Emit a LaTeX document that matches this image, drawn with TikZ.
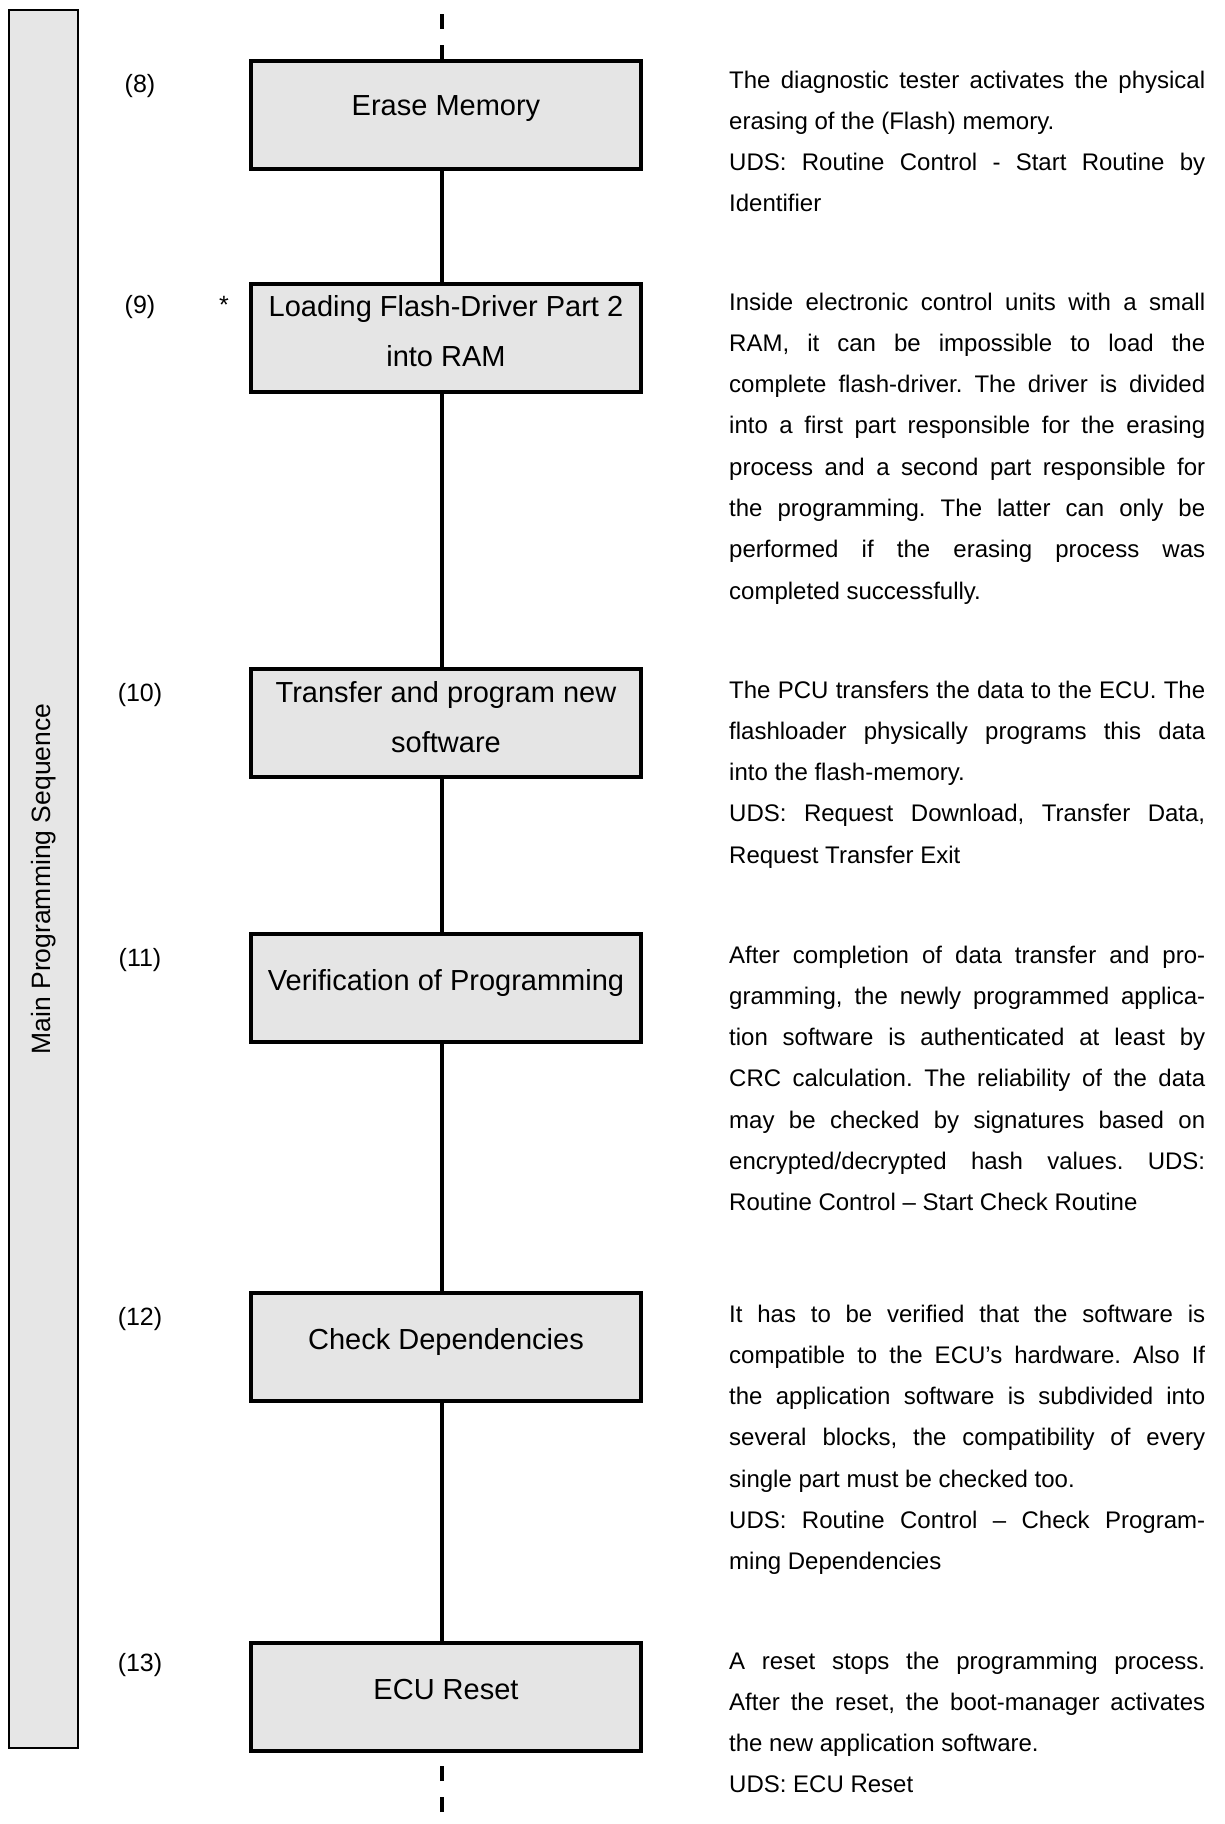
\documentclass[tikz,border=0pt]{standalone}
\usepackage{fontspec}
\setmainfont{Liberation Sans}
\usetikzlibrary{calc}
\frenchspacing
\newlength\colw
\setlength\colw{476pt}
% natural interword spacing of the font (TikZ alignment fixes it otherwise)
\newcommand\natsp{\spaceskip=0pt\xspaceskip=0pt\relax}
% one fully justified line, and one ragged line, of a description
\newcommand\jl[1]{\makebox[\colw][s]{\natsp #1}}
\newcommand\rl[1]{\makebox[\colw][l]{\natsp #1}}
\definecolor{boxgray}{HTML}{E5E5E5}
\definecolor{bargray}{HTML}{E6E6E6}
\begin{document}
\begin{tikzpicture}[x=1pt,y=-1pt,
  stepbox/.style={draw=black, line width=4pt, fill=boxgray, minimum width=390pt,
    minimum height=108pt, inner sep=0pt},
  boxtext/.style={inner sep=0pt, align=center, font=\fontsize{29}{50}\selectfont,
    execute at begin node=\natsp},
  sidebar/.style={draw=black, line width=2pt, fill=bargray, rotate=90,
    minimum width=1738pt, minimum height=69pt, inner sep=0pt,
    font=\fontsize{26.5}{30}\selectfont},
  num/.style={anchor=base, inner sep=0pt, font=\fontsize{25}{30}\selectfont},
  desc/.style={anchor=base west, text width=\colw, align=left, inner sep=0pt,
    font=\fontsize{24}{41.3}\selectfont},
  link/.style={line width=4pt},
  cut/.style={line width=4pt, dash pattern=on 15pt off 16pt}
]
\useasboundingbox (0,0) rectangle (1225,1824);
\fill[white] (0,0) rectangle (1225,1824);

% phase bar on the left
\node[sidebar] (bar) at (43.5,879) {Main Programming Sequence};

% process steps
\node[stepbox] (b8)  at (446,115)  {};
\node[stepbox] (b9)  at (446,338)  {};
\node[stepbox] (b10) at (446,723)  {};
\node[stepbox] (b11) at (446,988)  {};
\node[stepbox] (b12) at (446,1347) {};
\node[stepbox] (b13) at (446,1697) {};
\node[boxtext] (t8)  at ($(b8.center)+(0,-6)$)  {Erase Memory};
\node[boxtext] (t9)  at ($(b9.center)+(0,-7)$)  {Loading Flash-Driver Part 2\\into RAM};
\node[boxtext] (t10) at ($(b10.center)+(0,-6)$) {Transfer and program new\\software};
\node[boxtext] (t11) at ($(b11.center)+(0,-5)$) {Verification of Programming};
\node[boxtext] (t12) at ($(b12.center)+(0,-5)$) {Check Dependencies};
\node[boxtext] (t13) at ($(b13.center)+(0,-8)$) {ECU Reset};

% step numbers
\node[num] (n8)  at (140,92)   {(8)};
\node[num] (n9)  at (140,313)  {(9)};
\node[num] (ast) at (224,313)  {*};
\node[num] (n10) at (140,701)  {(10)};
\node[num] (n11) at (140,966)  {(11)};
\node[num] (n12) at (140,1325) {(12)};
\node[num] (n13) at (140,1671) {(13)};

% connectors along the spine
\coordinate (spine) at (442,0);
\coordinate (topend) at (442,14);
\coordinate (botend) at (442,1812);
\draw[cut]  (topend) -- (b8.north -| spine);
\draw[link] (b8.south -| spine)  -- (b9.north -| spine);
\draw[link] (b9.south -| spine)  -- (b10.north -| spine);
\draw[link] (b10.south -| spine) -- (b11.north -| spine);
\draw[link] (b11.south -| spine) -- (b12.north -| spine);
\draw[link] (b12.south -| spine) -- (b13.north -| spine);
\draw[cut]  (botend) -- (b13.south -| spine);

% descriptions
\node[desc] (d8) at (729,88) {%
\jl{The diagnostic tester activates the physical}\\
\rl{erasing of the (Flash) memory.}\\
\jl{UDS: Routine Control - Start Routine by}\\
\rl{Identifier}};

\node[desc] (d9) at (729,310) {%
\jl{Inside electronic control units with a small}\\
\jl{RAM, it can be impossible to load the}\\
\jl{complete flash-driver. The driver is divided}\\
\jl{into a first part responsible for the erasing}\\
\jl{process and a second part responsible for}\\
\jl{the programming. The latter can only be}\\
\jl{performed if the erasing process was}\\
\rl{completed successfully.}};

\node[desc] (d10) at (729,698) {%
\jl{The PCU transfers the data to the ECU. The}\\
\jl{flashloader physically programs this data}\\
\rl{into the flash-memory.}\\
\jl{UDS: Request Download, Transfer Data,}\\
\rl{Request Transfer Exit}};

\node[desc] (d11) at (729,963) {%
\jl{After completion of data transfer and pro-}\\
\jl{gramming, the newly programmed applica-}\\
\jl{tion software is authenticated at least by}\\
\jl{CRC calculation. The reliability of the data}\\
\jl{may be checked by signatures based on}\\
\jl{encrypted/decrypted hash values. UDS:}\\
\rl{Routine Control – Start Check Routine}};

\node[desc] (d12) at (729,1322) {%
\jl{It has to be verified that the software is}\\
\jl{compatible to the ECU’s hardware. Also If}\\
\jl{the application software is subdivided into}\\
\jl{several blocks, the compatibility of every}\\
\rl{single part must be checked too.}\\
\jl{UDS: Routine Control – Check Program-}\\
\rl{ming Dependencies}};

\node[desc] (d13) at (729,1669) {%
\jl{A reset stops the programming process.}\\
\jl{After the reset, the boot-manager activates}\\
\rl{the new application software.}\\
\rl{UDS: ECU Reset}};
\end{tikzpicture}
\end{document}
